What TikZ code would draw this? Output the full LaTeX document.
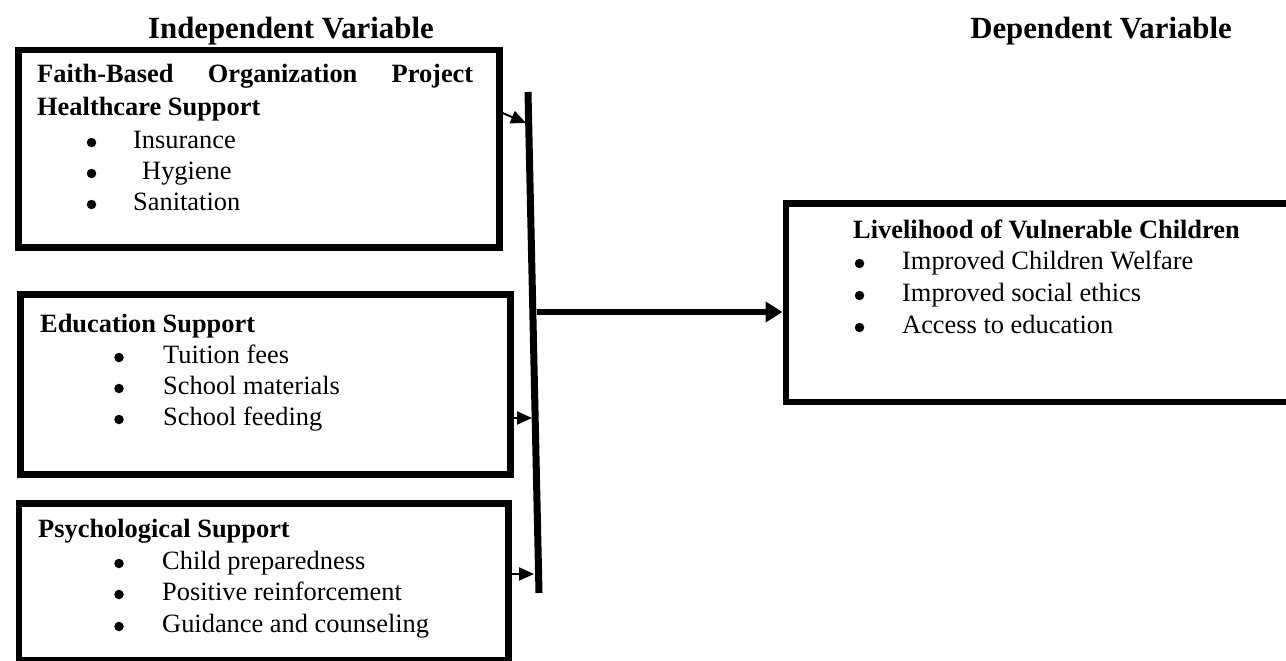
\documentclass[tikz,border=0pt]{standalone}
\usepackage{fontspec}
\setmainfont{Liberation Serif}
\usetikzlibrary{arrows.meta}
\newcommand{\bodyfont}{\fontsize{26.4pt}{31.7pt}\selectfont}
\newcommand{\titlefont}{\fontsize{30.8pt}{36pt}\selectfont\bfseries}
\begin{document}
\begin{tikzpicture}[x=1pt,y=-1pt,
  box/.style={draw, line width=6.5pt, inner sep=0pt, anchor=north west},
  txt/.style={anchor=base west, inner sep=0pt, font=\bodyfont},
  hd/.style={anchor=base west, inner sep=0pt, font=\bodyfont\bfseries},
  bul/.style={circle, fill, inner sep=0pt, minimum size=9.5pt},
  ttl/.style={inner sep=0pt, font=\titlefont},
  small/.style={line width=2pt, -{Triangle[length=15pt,width=13pt]}},
  big/.style={line width=6.5pt, -{Triangle[length=17pt,width=20pt]}}]
\clip (0,0) rectangle (1286,661);
\fill[white] (0,0) rectangle (1286,661);
% titles
\node[ttl, anchor=base west] (tI) at (148,39) {Independent Variable};
\node[ttl, anchor=base east] (tD) at (1232,39) {Dependent Variable};
% boxes
\node[box, minimum width=481pt, minimum height=197pt] (b1) at (15,47) {};
\node[box, minimum width=490pt, minimum height=180pt] (b2) at (17,291) {};
\node[box, minimum width=489.5pt, minimum height=157pt] (b3) at (15.5,500) {};
\node[box, minimum width=530pt, minimum height=198.5pt] (bR) at (782.5,200) {};
% box 1 text
\node[hd] (h1a) at (37,83) {\makebox[436pt][s]{Faith-Based\hfill Organization\hfill Project}};
\node[hd] (h1b) at (37,115) {Healthcare Support};
\node[bul] (p1a) at (91.5,142.5) {};
\node[txt] (i1a) at (133,148) {Insurance};
\node[bul] (p1b) at (91.5,173.5) {};
\node[txt] (i1b) at (142,179) {Hygiene};
\node[bul] (p1c) at (91.5,204.5) {};
\node[txt] (i1c) at (133,210) {Sanitation};
% box 2 text
\node[hd] (h2) at (40,332) {Education Support};
\node[bul] (p2a) at (119,357.5) {};
\node[txt] (i2a) at (163,363) {Tuition fees};
\node[bul] (p2b) at (119,388.5) {};
\node[txt] (i2b) at (163,394) {School materials};
\node[bul] (p2c) at (119,419.5) {};
\node[txt] (i2c) at (163,425) {School feeding};
% box 3 text
\node[hd] (h3) at (38,537) {Psychological Support};
\node[bul] (p3a) at (119,563.5) {};
\node[txt] (i3a) at (162,569) {Child preparedness};
\node[bul] (p3b) at (119,594.5) {};
\node[txt] (i3b) at (162,600) {Positive reinforcement};
\node[bul] (p3c) at (119,626.5) {};
\node[txt] (i3c) at (162,632) {Guidance and counseling};
% right box text
\node[hd] (hR) at (853,238) {Livelihood of Vulnerable Children};
\node[bul] (pRa) at (859.5,263.5) {};
\node[txt] (iRa) at (902,269) {Improved Children Welfare};
\node[bul] (pRb) at (859.5,295.5) {};
\node[txt] (iRb) at (902,301) {Improved social ethics};
\node[bul] (pRc) at (859.5,327.5) {};
\node[txt] (iRc) at (902,333) {Access to education};
% bar
\coordinate (bartop) at (528,92);
\coordinate (barbot) at (539,593);
\draw[line width=7pt] (bartop) -- (barbot);
% arrows
\coordinate (e1) at (526,123);
\coordinate (e2) at (532,418);
\coordinate (e3) at (534,574);
\coordinate (sB) at (537,312);
\draw[small] (b1.east |- 0,113) -- (e1);
\draw[small] (b2.east |- 0,418) -- (e2);
\draw[small] (b3.east |- 0,574) -- (e3);
\draw[big] (sB) -- (bR.west |- 0,312);
\end{tikzpicture}
\end{document}
